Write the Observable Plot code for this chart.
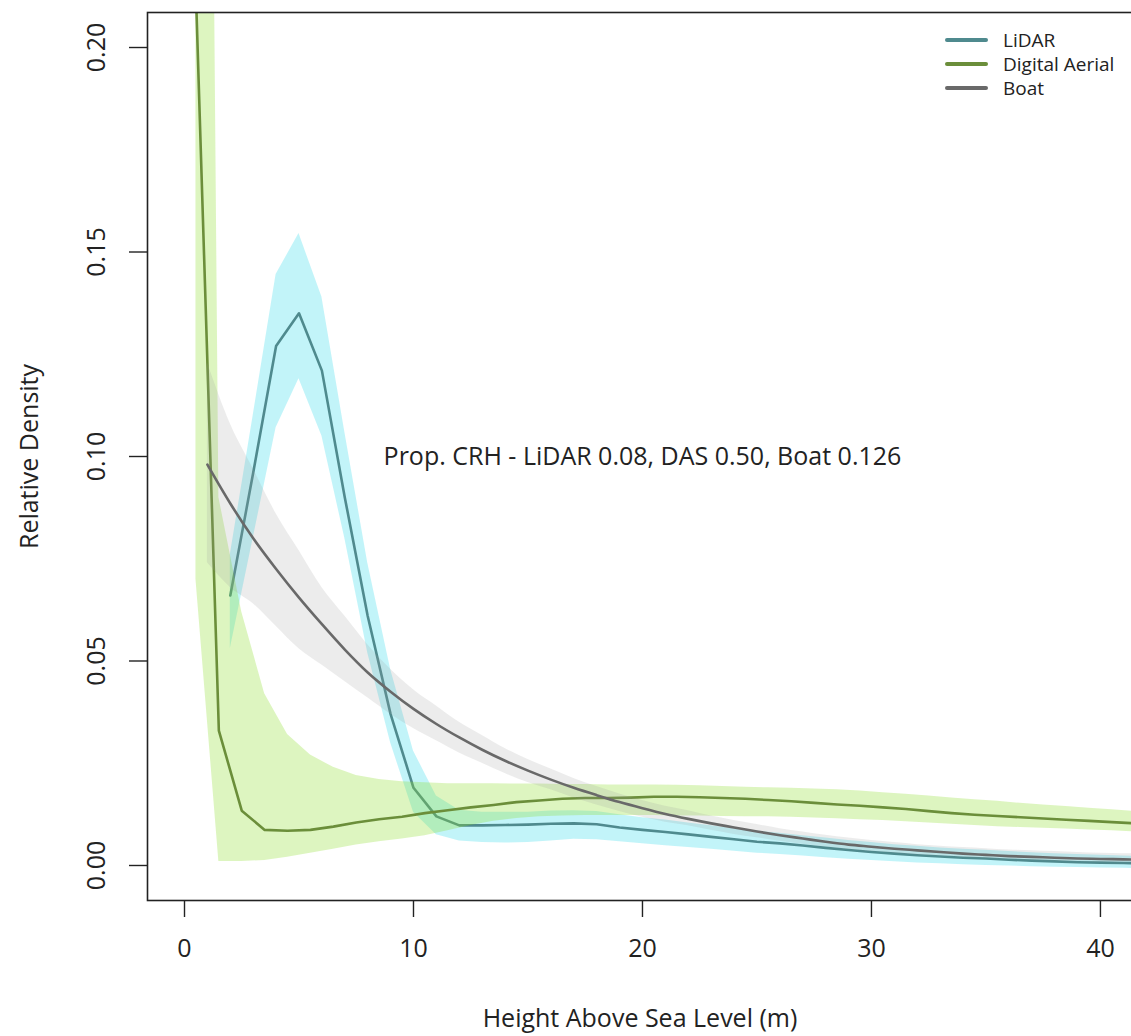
<!DOCTYPE html>
<html>
<head>
<meta charset="utf-8">
<script src="https://cdn.jsdelivr.net/npm/d3@7"></script>
<script src="https://cdn.jsdelivr.net/npm/@observablehq/plot@0.6"></script>
<style>
  html, body { margin: 0; padding: 0; background: #fff; overflow: hidden; }
  #wrap { position: relative; width: 1131px; height: 1036px; overflow: hidden; }
  #chart svg { max-width: none !important; }
  #legend { position: absolute; left: 945px; top: 30px; font-family: "Open Sans", sans-serif; font-size: 19px; color: #222; }
  #legend .row { position: relative; height: 24px; white-space: nowrap; }
  #legend .sw { position: absolute; left: 0; top: 8px; width: 43px; height: 4px; border-radius: 2px; }
  #legend .lb { position: absolute; left: 58px; top: 0; display: inline-block; height: 20px; line-height: 20px; overflow: visible; }
</style>
</head>
<body>
<div id="wrap"><div id="chart"></div><div id="legend"></div></div>
<script>
// ---- data ----
const seriesNames = ["LiDAR", "Digital Aerial", "Boat"];
const seriesColors = ["#4f8a8e", "#6b8e3a", "#696969"];

// LiDAR (x = 2..42)
const lidarX = d3.range(2, 43);
const lidarMean = [0.066, 0.096, 0.127, 0.135, 0.121, 0.090, 0.061, 0.037, 0.019, 0.012,
  0.0098, 0.0098, 0.0099, 0.0100, 0.0102, 0.0103, 0.0101, 0.0093, 0.0087, 0.0082,
  0.0076, 0.0070, 0.0064, 0.0058, 0.0054, 0.0049, 0.0043, 0.0038, 0.0033, 0.0029,
  0.0025, 0.0022, 0.0019, 0.0017, 0.0014, 0.0012, 0.0010, 0.0008, 0.0007, 0.0006, 0.0005];
const lidarHi = [0.076, 0.110, 0.1445, 0.1545, 0.139, 0.106, 0.074, 0.048, 0.028, 0.017,
  0.0135, 0.013, 0.013, 0.013, 0.0133, 0.0134, 0.0132, 0.0124, 0.0117, 0.0111,
  0.0104, 0.0097, 0.0090, 0.0084, 0.0079, 0.0073, 0.0067, 0.0061, 0.0056, 0.0051,
  0.0047, 0.0043, 0.0040, 0.0037, 0.0034, 0.0031, 0.0029, 0.0027, 0.0025, 0.0023, 0.0022];
const lidarLo = [0.053, 0.080, 0.107, 0.119, 0.105, 0.080, 0.052, 0.030, 0.013, 0.0075,
  0.006, 0.0056, 0.0055, 0.0056, 0.0060, 0.0064, 0.0063, 0.0058, 0.0053, 0.0048,
  0.0044, 0.0040, 0.0035, 0.0030, 0.0027, 0.0023, 0.0019, 0.0015, 0.0012, 0.0009,
  0.0006, 0.0004, 0.0002, 0.0000, -0.0001, -0.0003, -0.0004, -0.0005, -0.0006, -0.0007, -0.0008];

// Digital Aerial (x = 0.5..42.5)
const dasX = d3.range(0.5, 43, 1);
const dasMean = [0.213, 0.033, 0.0134, 0.0087, 0.0085, 0.0087, 0.0095, 0.0105, 0.0113, 0.0119,
  0.0128, 0.0135, 0.0142, 0.0148, 0.0155, 0.0159, 0.0163, 0.0165, 0.0165, 0.0166,
  0.0168, 0.0168, 0.0167, 0.0165, 0.0163, 0.0160, 0.0157, 0.0153, 0.0149, 0.0146,
  0.0142, 0.0138, 0.0133, 0.0128, 0.0124, 0.0121, 0.0118, 0.0115, 0.0112, 0.0109,
  0.0106, 0.0103, 0.0100];
const dasHi = [0.75, 0.09, 0.062, 0.042, 0.032, 0.027, 0.024, 0.022, 0.021, 0.0205,
  0.0202, 0.0200, 0.0200, 0.0200, 0.0199, 0.0199, 0.0198, 0.0198, 0.0197, 0.0197,
  0.0197, 0.0196, 0.0195, 0.0193, 0.0191, 0.0190, 0.0189, 0.0187, 0.0185, 0.0182,
  0.0178, 0.0174, 0.0170, 0.0165, 0.0161, 0.0157, 0.0152, 0.0148, 0.0144, 0.0140,
  0.0136, 0.0132, 0.0129];
const dasLo = [0.070, 0.001, 0.001, 0.0012, 0.002, 0.003, 0.004, 0.005, 0.0058, 0.0065,
  0.0073, 0.0085, 0.0098, 0.0108, 0.0115, 0.0119, 0.0121, 0.0122, 0.0122, 0.0122,
  0.0122, 0.0121, 0.0121, 0.0120, 0.0119, 0.0119, 0.0118, 0.0116, 0.0114, 0.0112,
  0.0110, 0.0107, 0.0104, 0.0101, 0.0098, 0.0095, 0.0093, 0.0091, 0.0089, 0.0087,
  0.0085, 0.0082, 0.0080];

// Boat (x = 1..42)
const boatX = d3.range(1, 43);
const boatMean = [0.098, 0.0885, 0.080, 0.0725, 0.0655, 0.059, 0.0528, 0.0472, 0.0425, 0.0383,
  0.0346, 0.0313, 0.0283, 0.0256, 0.0232, 0.021, 0.019, 0.0172, 0.0155, 0.0140,
  0.0126, 0.0114, 0.0103, 0.0093, 0.0083, 0.0074, 0.0066, 0.0058, 0.0051, 0.0046,
  0.0041, 0.0037, 0.0033, 0.0029, 0.0026, 0.0023, 0.0021, 0.0019, 0.0017, 0.0016, 0.0015, 0.0014];
const boatHi = [0.123, 0.108, 0.097, 0.086, 0.077, 0.068, 0.061, 0.054, 0.048, 0.043,
  0.039, 0.035, 0.0318, 0.0286, 0.0259, 0.0236, 0.0213, 0.0193, 0.0175, 0.0159,
  0.0145, 0.0134, 0.0121, 0.0110, 0.0100, 0.0090, 0.0082, 0.0074, 0.0067, 0.0061,
  0.0056, 0.0051, 0.0047, 0.0044, 0.0041, 0.0038, 0.0036, 0.0034, 0.0032, 0.0030, 0.0029, 0.0028];
const boatLo = [0.074, 0.068, 0.064, 0.0585, 0.053, 0.049, 0.045, 0.041, 0.037, 0.0335,
  0.0305, 0.0275, 0.025, 0.0225, 0.0203, 0.0185, 0.0165, 0.0148, 0.0132, 0.0118,
  0.0106, 0.0097, 0.0086, 0.0076, 0.0068, 0.0059, 0.0052, 0.0045, 0.0039, 0.0034,
  0.0030, 0.0026, 0.0023, 0.0020, 0.0017, 0.0015, 0.0013, 0.0011, 0.0009, 0.0008, 0.0007, 0.0006];

const xTicks = [0, 10, 20, 30, 40];
const yTicks = [0.00, 0.05, 0.10, 0.15, 0.20];
const xTitle = "Height Above Sea Level (m)";
const yTitle = "Relative Density";
const note = "Prop. CRH - LiDAR 0.08, DAS 0.50, Boat 0.126";
const noteX = 20, noteY = 0.10;

// ---- build tables ----
const toRows = (xs, m, lo, hi) => xs.map((x, i) => ({x, m: m[i], lo: lo[i], hi: hi[i]}));
const lidar = toRows(lidarX, lidarMean, lidarLo, lidarHi);
const das = toRows(dasX, dasMean, dasLo, dasHi);
const boat = toRows(boatX, boatMean, boatLo, boatHi);

const font = "'Open Sans', sans-serif";
const series = [
  {rows: lidar, color: seriesColors[0], band: "#00d2e6", op: 0.24, curve: "linear"},
  {rows: das, color: seriesColors[1], band: "#8ede2d", op: 0.30, curve: "linear"},
  {rows: boat, color: seriesColors[2], band: "#999999", op: 0.19, curve: "monotone-x"}
];

const marks = [];
for (const s of series) {
  marks.push(Plot.areaY(s.rows, {x: "x", y1: "lo", y2: "hi", fill: s.band, fillOpacity: s.op, curve: s.curve, clip: true}));
  marks.push(Plot.lineY(s.rows, {x: "x", y: "m", stroke: s.color, strokeWidth: 2.6, curve: s.curve, clip: true}));
}

const chart = Plot.plot({
  width: 1140,
  height: 1036,
  marginLeft: 147,
  marginRight: 8,
  marginTop: 12,
  marginBottom: 136,
  style: {fontFamily: font, background: "#fff", color: "#222", maxWidth: "none"},
  x: {domain: [-1.616, 41.40], label: null},
  y: {domain: [-0.00856, 0.20856], label: null},
  marks: [
    ...marks,
    Plot.axisX({ticks: xTicks, tickSize: 17, tickFormat: () => "", strokeWidth: 1.4, stroke: "#222", label: null}),
    Plot.axisY({ticks: yTicks, tickSize: 18, tickFormat: () => "", strokeWidth: 1.4, stroke: "#222", label: null}),
    Plot.text(xTicks, {x: d => d, frameAnchor: "bottom", dy: 48, text: d => String(d), fontSize: 25, fill: "#222", lineAnchor: "middle"}),
    Plot.text(yTicks, {y: d => d, frameAnchor: "left", dx: -51, rotate: -90, text: d => d.toFixed(2), fontSize: 25, fill: "#222", textAnchor: "middle", lineAnchor: "middle"}),
    Plot.text([xTitle], {frameAnchor: "bottom", dy: 118, text: d => d, fontSize: 25, fill: "#222", lineAnchor: "middle"}),
    Plot.text([yTitle], {frameAnchor: "left", dx: -118, rotate: -90, text: d => d, fontSize: 25, fill: "#222", textAnchor: "middle", lineAnchor: "middle"}),
    Plot.text([note], {x: () => noteX, y: () => noteY, text: d => d, fontSize: 25, fill: "#222", textAnchor: "middle", lineAnchor: "middle"}),
    Plot.frame({stroke: "#222", strokeWidth: 1.6})
  ]
});
document.getElementById("chart").appendChild(chart);

// legend (inside plot area, top-right)
const leg = document.getElementById("legend");
seriesNames.forEach((name, i) => {
  const row = document.createElement("div");
  row.className = "row";
  row.innerHTML = `<span class="sw" style="background:${seriesColors[i]}"></span><span class="lb">${name}</span>`;
  leg.appendChild(row);
});
</script>
</body>
</html>
